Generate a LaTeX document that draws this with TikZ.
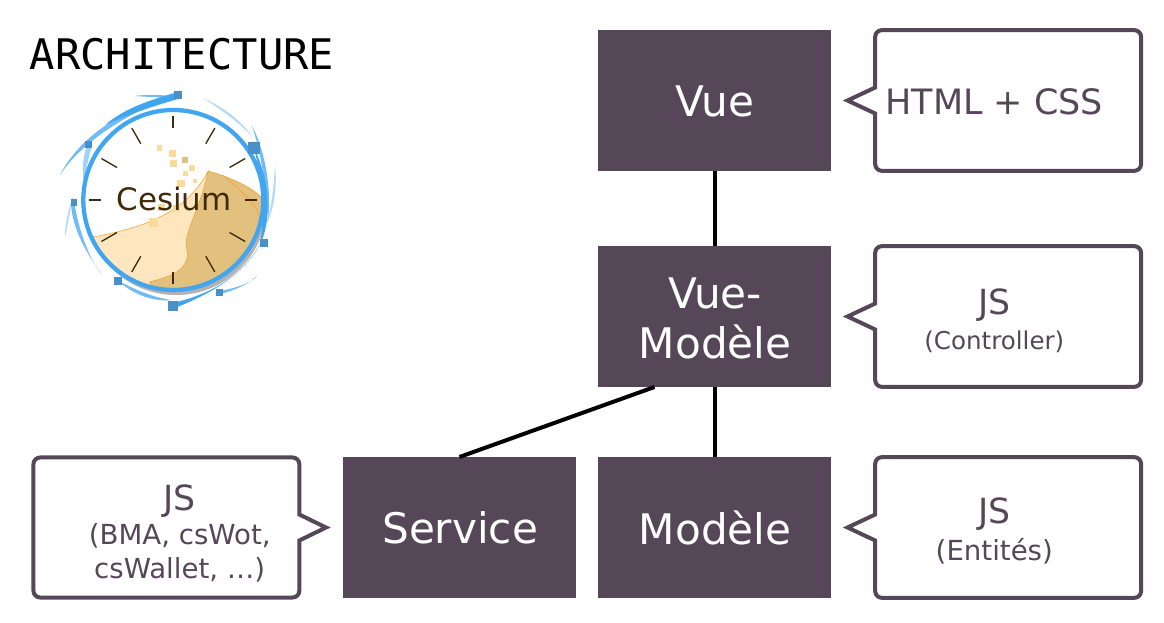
\documentclass[tikz,border=0pt]{standalone}
\usepackage{xcolor}
\usepackage{fontspec}
\setmainfont{DejaVu Sans}
\setmonofont{DejaVu Sans Mono}
\usetikzlibrary{positioning}
\definecolor{plum}{HTML}{554757}
\definecolor{ringblue}{HTML}{42A5F0}
\definecolor{handleblue}{HTML}{4A90C8}
\definecolor{duneclear}{HTML}{FEE6BF}
\definecolor{dunedark}{HTML}{E2C07D}
\definecolor{duneline}{HTML}{F5A030}
\definecolor{seedpale}{HTML}{FBDB9C}
\definecolor{inkbrown}{HTML}{3F2A0A}
% notes: body with a pointer on one side
\newcommand{\leftnote}[1]{\draw[noteline] (#1.west) -- ([xshift=20.75pt,yshift=9.75pt]#1.west)
    [rounded corners=5pt] -- ([xshift=20.75pt]#1.north west) -- (#1.north east) -- (#1.south east) -- ([xshift=20.75pt]#1.south west)
    [sharp corners] -- ([xshift=20.75pt,yshift=-9.75pt]#1.west) -- cycle;}
\newcommand{\rightnote}[1]{\draw[noteline] (#1.east) -- ([xshift=-20pt,yshift=9.75pt]#1.east)
    [rounded corners=5pt] -- ([xshift=-20pt]#1.north east) -- (#1.north west) -- (#1.south west) -- ([xshift=-20pt]#1.south east)
    [sharp corners] -- ([xshift=-20pt,yshift=-9.75pt]#1.east) -- cycle;}
\newcommand{\seed}[3]{\fill[seedpale] (#1-#3,#2-#3) rectangle (#1+#3,#2+#3);}
\newcommand{\handle}[3]{\fill[handleblue] (#1-#3,#2-#3) rectangle (#1+#3,#2+#3);}

\begin{document}
\begin{tikzpicture}[
    x=0.75pt,y=-0.75pt,
    layer/.style={fill=plum,minimum width=174.75pt,minimum height=105.75pt,inner sep=0pt,outer sep=0pt},
    layertext/.style={text=white,inner sep=0pt,align=center,font=\fontsize{31.6}{37.5}\selectfont},
    note/.style={minimum width=220.15pt,minimum height=105.5pt,inner sep=0pt,outer sep=0pt},
    notetext/.style={text=plum,inner sep=0pt,align=center},
    noteline/.style={draw=plum,line width=3pt,miter limit=10,fill=none},
    link/.style={draw=black,line width=3pt},
    swirl/.style={fill=ringblue,opacity=0.75},
    tick/.style={draw=inkbrown,line width=1pt}
]
    \useasboundingbox (0,0) rectangle (1164,623);

    \node[anchor=base west,inner sep=0pt,font=\ttfamily\fontsize{31.6}{36}\selectfont] (title) at (29.5,69.5) {ARCHITECTURE};

    % logo
    \fill[black,opacity=0.3] (176,204) circle (91);
    \fill[white] (173.3,200) circle (89);
    \begin{scope}
        \clip (173.3,200) circle (89);
        \filldraw[fill=duneclear,draw=duneline,line width=0.4pt] (95,236.7) .. controls (140,228) and (185,215) .. (208.3,171) -- (195,270) -- (150,295) -- (70,295) -- (70,240) -- cycle;
        \filldraw[fill=dunedark,draw=duneline,line width=0.4pt] (208.3,171) .. controls (225,176) and (250,185) .. (262,198) -- (270,295) -- (150,295) -- (150,281.7) .. controls (175,276) and (190,268) .. (187,250) .. controls (182,235) and (200,210) .. (208.3,171);
        \draw[duneline,line width=0.4pt] (223,175) .. controls (240,190) and (258,205) .. (260,219);
        \fill[ringblue,opacity=0.3] (105,125) .. controls (130,108) and (165,105) .. (190,112) .. controls (165,108) and (130,112) .. (105,140) -- cycle;
    \end{scope}
    \seed{159.3}{148}{2.7} \seed{172.3}{153.3}{3.7} \seed{173.3}{163.3}{3.7}
    \seed{191.7}{168.3}{3} \seed{185.7}{173.3}{2.3} \seed{195}{181}{2.3}
    \seed{181}{183.7}{3.7} \seed{153.3}{222.3}{4.5} \seed{161.7}{207.3}{3.3} \seed{176.7}{208.3}{3.3}
    \fill[dunedark] (182,157) rectangle (188,163);
    \foreach \a in {30,60,120,150,210,240,300,330}
        \draw[tick] (173.3,200) ++(\a:65) -- ++(\a:18);
    \foreach \a in {0,90,180,270}
        \draw[tick,line width=1.5pt] (173.3,200) ++(\a:72) -- ++(\a:12);
    \node[inner sep=0pt,text=inkbrown,font=\fontsize{23.2}{28}\selectfont] (cesium) at (174,199) {Cesium};
    \draw[ringblue,line width=3.2pt] (173.3,200) circle (90);
    \fill[swirl] (60,175) .. controls (75,145) and (110,115) .. (155,103) .. controls (115,122) and (80,145) .. (60,175);
    \fill[swirl] (134,96) .. controls (150,94) and (165,95) .. (178,97) .. controls (165,98) and (150,97) .. (134,96);
    \fill[ringblue] (178,92) .. controls (150,100) and (125,108) .. (105,125) .. controls (125,116) and (150,107) .. (178,99);
    \fill[swirl,opacity=0.4] (203,98) .. controls (225,108) and (240,120) .. (252,136) .. controls (238,122) and (222,110) .. (203,98);
    \fill[swirl] (252,126) .. controls (265,150) and (272,190) .. (268,220) .. controls (266,190) and (262,155) .. (252,126);
    \fill[ringblue] (254,148) .. controls (270,180) and (272,220) .. (260,245) .. controls (265,215) and (262,180) .. (254,148);
    \fill[swirl,opacity=0.4] (275,165) .. controls (278,190) and (272,215) .. (266,225) .. controls (272,205) and (274,185) .. (275,165);
    \fill[ringblue] (172,303) .. controls (210,295) and (245,275) .. (262,240) .. controls (248,272) and (212,294) .. (172,309);
    \fill[swirl] (219,291) .. controls (240,288) and (255,280) .. (257,276) .. controls (250,283) and (235,291) .. (219,294);
    \fill[swirl] (74,202) .. controls (80,235) and (90,260) .. (102,275) .. controls (88,255) and (72,230) .. (71,203);
    \fill[swirl,opacity=0.4] (65,237) .. controls (65,220) and (70,205) .. (74,193) .. controls (70,210) and (68,225) .. (65,237);
    \fill[swirl,opacity=0.5] (87,145) .. controls (82,160) and (82,175) .. (84,182) .. controls (86,170) and (88,160) .. (92,145);
    \fill[swirl] (117,280) .. controls (135,290) and (155,298) .. (172,300) .. controls (155,302) and (135,296) .. (117,280);
    \handle{178.3}{95}{4} \handle{254}{148}{6} \handle{88}{145}{3.5}
    \handle{74}{202.7}{3.2} \handle{264}{243}{4} \handle{219}{293}{3.5}
    \handle{117.7}{280.7}{4} \handle{172.7}{306}{5}

    % layers
    \node[layer,label={[layertext,xshift=0.5pt,yshift=-0.75pt]center:Vue}] (vue) at (714.5,100.5) {};
    \node[layer,below=56.25pt of vue,label={[layertext,xshift=0.5pt,yshift=-1.5pt]center:{Vue-\\Modèle}}] (vuemodele) {};
    \node[layer,below=52.5pt of vuemodele,label={[layertext,xshift=0.5pt]center:Modèle}] (modele) {};
    \node[layer,left=16.5pt of modele,label={[layertext,xshift=0.5pt]center:Service}] (service) {};

    \draw[link] (vue) -- (vuemodele);
    \draw[link] (vuemodele) -- (modele);
    \draw[link] ([xshift=-45pt]vuemodele.south) -- (service.north);

    % notes
    \node[note,right=12.4pt of vue,label={[notetext,yshift=-1pt,font=\fontsize{26.2}{31}\selectfont]center:HTML + CSS}] (notevue) {};
    \node[note,right=12.4pt of vuemodele,label={[notetext,yshift=-3pt]center:{\fontsize{26}{28}\selectfont JS\\[6pt]\fontsize{18.4}{24}\selectfont (Controller)}}] (notevuemodele) {};
    \node[note,right=12.4pt of modele,label={[notetext,yshift=-2.6pt]center:{\fontsize{26}{28}\selectfont JS\\[5pt]\fontsize{20.7}{24}\selectfont (Entités)}}] (notemodele) {};
    \node[note,left=12.75pt of service,minimum width=219.4pt,minimum height=105pt,label={[notetext,yshift=-4.5pt]center:{\fontsize{26}{28}\selectfont JS\\[4pt]\fontsize{20.7}{27}\selectfont (BMA, csWot,\\[6pt]\fontsize{20.7}{27}\selectfont csWallet, …)}}] (noteservice) {};
    \leftnote{notevue}
    \leftnote{notevuemodele}
    \leftnote{notemodele}
    \rightnote{noteservice}
\end{tikzpicture}
\end{document}
